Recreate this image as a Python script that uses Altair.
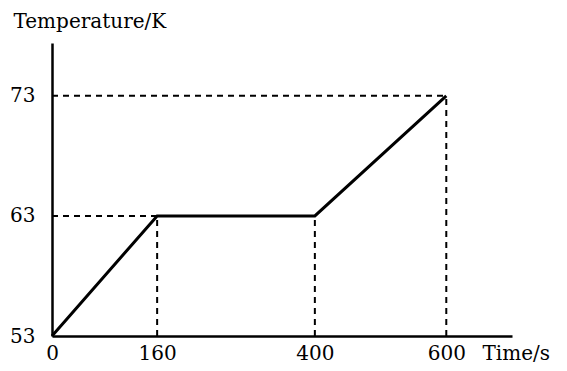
import altair as alt
import pandas as pd

times = [0, 160, 400, 600]
temps = [53, 63, 63, 73]
x_ticks = [0, 160, 400, 600]
y_ticks = [53, 63, 73]

line_df = pd.DataFrame({"t": times, "T": temps})

# dashed guide lines: horizontal to y axis, vertical to x axis
h_df = pd.DataFrame({"x": [0, 0], "x2": [160, 600], "y": [63, 73]})
v_df = pd.DataFrame({"x": [160, 400, 600], "y": [53, 53, 53], "y2": [63, 63, 73]})

FONT = "DejaVu Serif"
FS = 20
xs = alt.Scale(domain=[0, 700], nice=False, zero=False)
ys = alt.Scale(domain=[53, 77.4], nice=False, zero=False)

x_axis = alt.Axis(values=x_ticks, ticks=False, grid=False, domainColor="black",
                  domainWidth=2.5, labelFont=FONT, labelFontSize=FS, labelColor="black",
                  labelPadding=7, title="Time/s", titleFont=FONT, titleFontSize=FS,
                  titleFontWeight="normal", titleColor="black", titleX=430, titleY=23,
                  titleAlign="left", titleBaseline="alphabetic", labelFlush=False)
y_axis = alt.Axis(values=y_ticks, ticks=False, grid=False, domainColor="black",
                  domainWidth=2.5, labelFont=FONT, labelFontSize=FS, labelColor="black",
                  labelPadding=17, title="Temperature/K", titleFont=FONT, titleFontSize=FS,
                  titleFontWeight="normal", titleColor="black", titleAngle=0, titleX=-39,
                  titleY=-16, titleAlign="left", titleBaseline="alphabetic", labelFlush=False)

line = alt.Chart(line_df).mark_line(color="black", strokeWidth=3).encode(
    x=alt.X("t:Q", scale=xs, axis=x_axis),
    y=alt.Y("T:Q", scale=ys, axis=y_axis),
)
hr = alt.Chart(h_df).mark_rule(color="black", strokeWidth=2, strokeDash=[6, 5]).encode(
    x=alt.X("x:Q", scale=xs), x2="x2:Q", y=alt.Y("y:Q", scale=ys)
)
vr = alt.Chart(v_df).mark_rule(color="black", strokeWidth=2, strokeDash=[6, 5]).encode(
    x=alt.X("x:Q", scale=xs), y=alt.Y("y:Q", scale=ys), y2="y2:Q"
)

chart = alt.layer(hr, vr, line).properties(
    width=460, height=293,
    autosize=alt.AutoSizeParams(type="none"),
    padding={"left": 44, "top": 35, "right": 47, "bottom": 27},
).configure(background="white").configure_view(stroke="transparent", strokeWidth=0)

chart.save("out.html", embed_options={"renderer": "svg", "actions": False})
